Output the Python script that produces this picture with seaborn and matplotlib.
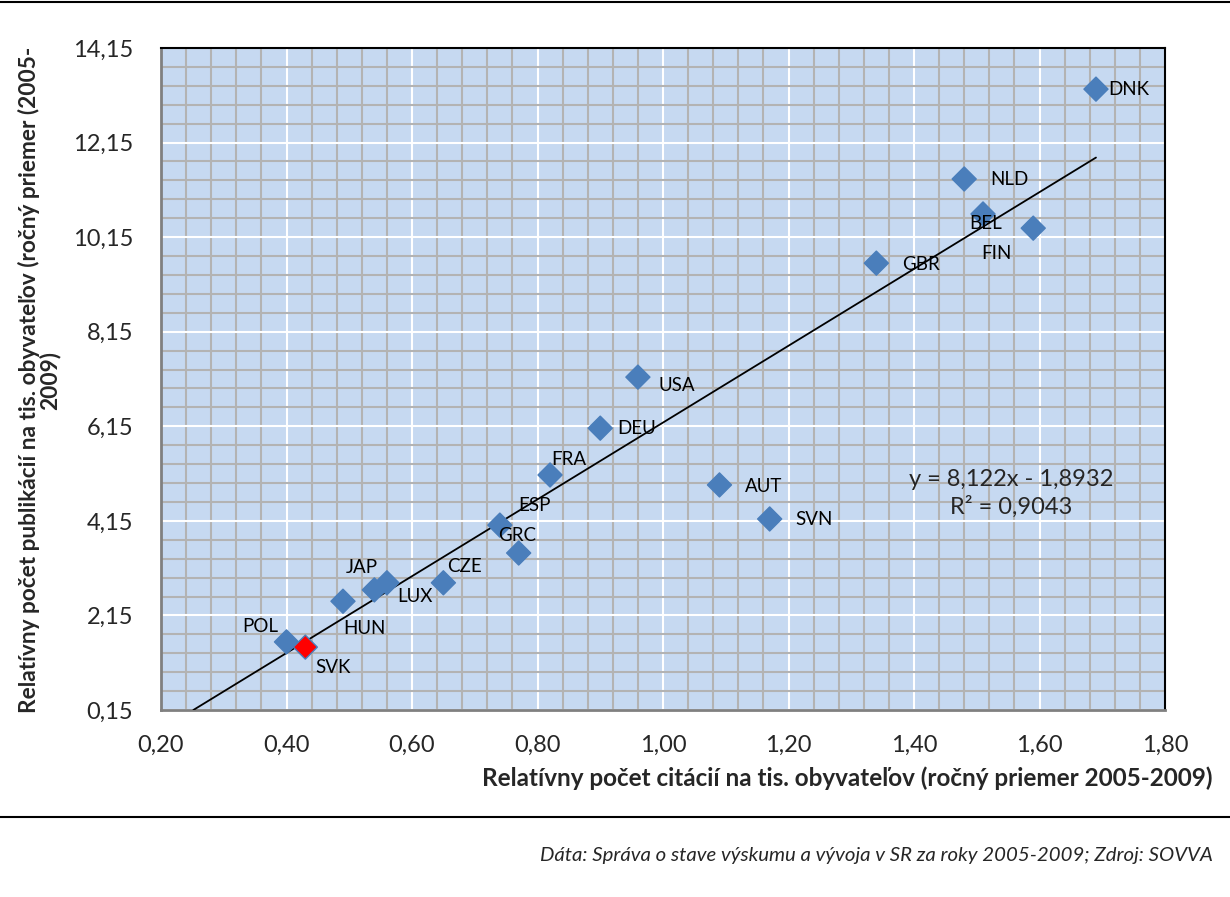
import matplotlib
matplotlib.use("Agg")
import matplotlib.pyplot as plt
import seaborn as sns
import numpy as np
import pandas as pd
from matplotlib.ticker import FixedLocator, FuncFormatter

countries = ["DNK", "NLD", "BEL", "FIN", "GBR", "USA", "DEU", "FRA", "AUT", "SVN",
             "ESP", "GRC", "CZE", "LUX", "JAP", "HUN", "POL", "SVK"]
citations = [1.69, 1.48, 1.51, 1.59, 1.34, 0.96, 0.90, 0.82, 1.09, 1.17,
             0.74, 0.77, 0.65, 0.56, 0.54, 0.49, 0.40, 0.43]
publications = [13.28, 11.38, 10.64, 10.34, 9.60, 7.19, 6.11, 5.12, 4.91, 4.19,
                4.06, 3.47, 2.84, 2.84, 2.69, 2.45, 1.59, 1.48]
slope = 8.122
intercept = -1.8932
r2 = 0.9043
x_ticks = [0.20, 0.40, 0.60, 0.80, 1.00, 1.20, 1.40, 1.60, 1.80]
y_ticks = [0.15, 2.15, 4.15, 6.15, 8.15, 10.15, 12.15, 14.15]

# label offsets in pixels (dx, dy)
offsets = {"DNK": (12, 0), "NLD": (26, -1), "BEL": (-14, -10), "FIN": (-52, -25),
           "GBR": (26, -1), "USA": (21, -8), "DEU": (17, 0), "FRA": (1, 15),
           "AUT": (25, -2), "SVN": (26, -1), "ESP": (18, 20), "GRC": (-21, 18),
           "CZE": (4, 16), "LUX": (10, -14), "JAP": (-29, 22), "HUN": (0, -27),
           "POL": (-44, 15), "SVK": (10, -20)}

df = pd.DataFrame({"country": countries, "x": citations, "y": publications})
df["grp"] = np.where(df["country"] == "SVK", "SVK", "other")

sns.set_theme(style="white")
plt.rcParams["font.family"] = ["Lato", "DejaVu Sans"]

fig = plt.figure(figsize=(12.30, 8.97), dpi=100)
ax = fig.add_axes([161 / 1230, 1 - 710 / 897, (1165 - 161) / 1230, (710 - 48) / 897])
ax.set_facecolor("#c6d9f1")

sns.scatterplot(data=df, x="x", y="y", hue="grp",
                palette={"other": "#4a7ebb", "SVK": "#ff0000"},
                marker="D", s=150, edgecolor="#4a7ebb", linewidth=1.0,
                legend=False, ax=ax, zorder=4)

xl = np.array([(0.15 - intercept) / slope, max(citations)])
ax.plot(xl, slope * xl + intercept, color="black", lw=1.3, zorder=3)

for c, x, y in zip(countries, citations, publications):
    dx, dy = offsets[c]
    ax.annotate(c, (x, y), xytext=(dx, dy), textcoords="offset pixels",
                ha="left", va="center", fontsize=13.5, color="black", zorder=5)

ax.text(1.555, 5.03, f"y = {slope:.3f}x - {abs(intercept):.4f}".replace(".", ","),
        ha="center", va="center", fontsize=17)
ax.text(1.555, 4.44, f"R² = {r2:.4f}".replace(".", ","),
        ha="center", va="center", fontsize=17)

ax.set_xlim(0.20, 1.80)
ax.set_ylim(0.15, 14.15)
ax.xaxis.set_major_locator(FixedLocator(x_ticks))
ax.yaxis.set_major_locator(FixedLocator(y_ticks))
ax.xaxis.set_minor_locator(FixedLocator(np.arange(0.20, 1.8001, 0.04)))
ax.yaxis.set_minor_locator(FixedLocator(np.arange(0.15, 14.1501, 0.4)))
fmt = FuncFormatter(lambda v, p: f"{v:.2f}".replace(".", ","))
ax.xaxis.set_major_formatter(fmt)
ax.yaxis.set_major_formatter(fmt)
ax.grid(which="minor", color="#b3b3b3", lw=1.5, zorder=0)
ax.grid(which="major", color="white", lw=1.5, zorder=1)
ax.set_axisbelow(True)
ax.tick_params(which="both", length=0)
ax.tick_params(axis="x", labelsize=17, pad=18)
ax.tick_params(axis="y", labelsize=17, pad=20)
for s in ["top", "right"]:
    ax.spines[s].set_color("black")
    ax.spines[s].set_linewidth(1.5)
for s in ["left", "bottom"]:
    ax.spines[s].set_color("#808080")
    ax.spines[s].set_linewidth(2)
ax.set_xlabel("")
ax.set_ylabel("")

fig.text(1213 / 1230, 1 - 778 / 897,
         "Relatívny počet citácií na tis. obyvateľov (ročný priemer 2005-2009)",
         ha="right", va="center", fontsize=17.5, fontweight="bold")
fig.text(39 / 1230, 1 - 380 / 897,
         "Relatívny počet publikácií na tis. obyvateľov (ročný priemer (2005-\n2009)",
         ha="center", va="center", rotation=90, fontsize=16.3, fontweight="bold",
         multialignment="center", linespacing=0.95)
fig.text(1213 / 1230, 1 - 855 / 897,
         "Dáta: Správa o stave výskumu a vývoja v SR za roky 2005-2009; Zdroj: SOVVA",
         ha="right", va="center", fontsize=14.7, style="italic")

fig.add_artist(plt.Line2D([0, 1], [1 - 2 / 897, 1 - 2 / 897], color="black", lw=1.5))
fig.add_artist(plt.Line2D([0, 1], [1 - 817 / 897, 1 - 817 / 897], color="black", lw=1.5))

fig.savefig("out.png", dpi=100)
